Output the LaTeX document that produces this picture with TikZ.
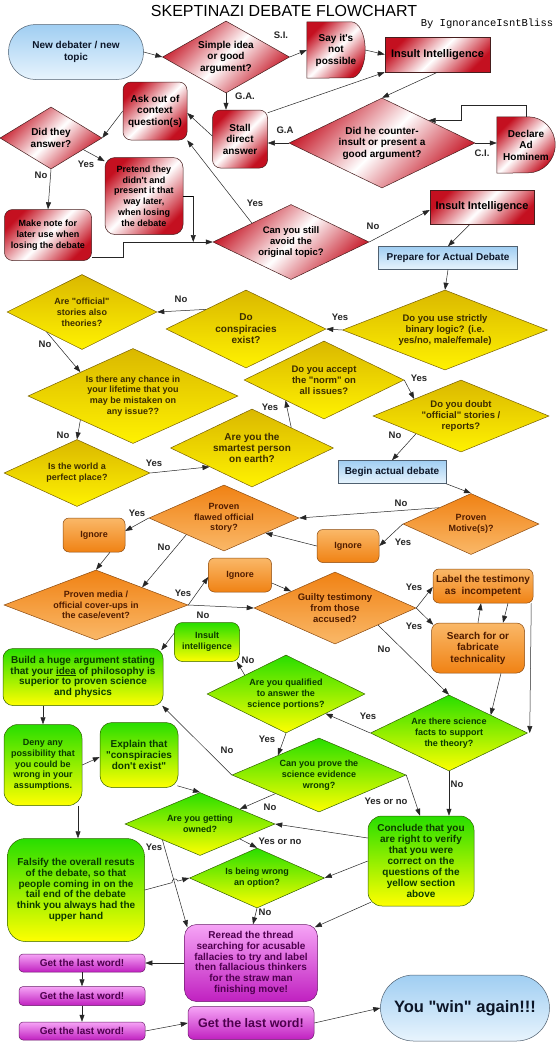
\documentclass[tikz,border=0pt]{standalone}
\usepackage{fontspec}
\newfontfamily\af{Liberation Sans}
\newfontfamily\monofont{Liberation Mono}
\usetikzlibrary{shapes.geometric,arrows.meta,calc,backgrounds}
\definecolor{rd}{RGB}{196,16,32}
\definecolor{blA}{RGB}{160,206,242}
\definecolor{blB}{RGB}{232,244,253}
\definecolor{yeA}{RGB}{218,184,0}
\definecolor{yeB}{RGB}{255,242,0}
\definecolor{orA}{RGB}{250,184,104}
\definecolor{orB}{RGB}{240,130,20}
\definecolor{grA}{RGB}{40,222,0}
\definecolor{grB}{RGB}{255,255,0}
\definecolor{mgA}{RGB}{246,164,246}
\definecolor{mgB}{RGB}{192,32,192}
\definecolor{yeT}{RGB}{60,45,0}
\definecolor{orT}{RGB}{80,28,0}
\definecolor{grT}{RGB}{10,58,0}
\definecolor{mgT}{RGB}{78,0,78}
\definecolor{blT}{RGB}{12,22,40}
\definecolor{yeD}{RGB}{120,96,0}
\definecolor{orD}{RGB}{138,74,16}
\definecolor{grD}{RGB}{50,96,0}
\definecolor{mgD}{RGB}{106,26,106}
\definecolor{rdD}{RGB}{70,30,30}
\definecolor{blD}{RGB}{80,96,112}
\tikzset{
  nb/.style={line width=0.5pt, align=center, inner sep=1pt},
  ften/.style={font=\af\bfseries\fontsize{10}{11.5}\selectfont},
  fnine/.style={font=\af\bfseries\fontsize{9}{10.8}\selectfont},
  dsz/.style n args={3}{minimum width=#1pt, minimum height=#2pt, aspect=#3},
  bsz/.style 2 args={minimum width=#1pt, minimum height=#2pt},
  redsh/.style={left color=rd, right color=rd, middle color=white, shading angle=45},
  rbox/.style={nb, redsh, draw=rdD, rectangle, rounded corners=8pt, ften},
  rdia/.style={nb, redsh, draw=rdD, diamond, inner sep=0pt, ften},
  bbox/.style={nb, top color=blA, bottom color=blB, draw=blD, rectangle, ften, text=blT},
  ydia/.style={nb, top color=yeA, bottom color=yeB, draw=yeD, diamond, inner sep=0pt, fnine, text=yeT},
  obox/.style={nb, top color=orA, bottom color=orB, draw=orD, rectangle, rounded corners=6pt, ften, text=orT},
  odia/.style={nb, top color=orB, bottom color=orA, draw=orD, diamond, inner sep=0pt, fnine, text=orT},
  gbox/.style={nb, top color=grA, bottom color=grB, draw=grD, rectangle, rounded corners=12pt, ften, text=grT},
  gdia/.style={nb, top color=grA, bottom color=grB, draw=grD, diamond, inner sep=0pt, fnine, text=grT},
  mbox/.style={nb, top color=mgA, bottom color=mgB, draw=mgD, rectangle, rounded corners=4pt, ften, text=mgT},
  dtext/.style={align=center, inner sep=0pt, ften},
  arr/.style={draw=black!85, line width=0.5pt, -{Triangle[length=7pt,width=5pt]}},
  lab/.style={font=\af\bfseries\fontsize{9.5}{11}\selectfont, text=black!85, inner sep=0pt},
}
\begin{document}
\begin{tikzpicture}[x=1pt,y=-1pt]
\useasboundingbox (0,0) rectangle (556,1042);

% ---------- title ----------
\node[anchor=base, inner sep=0pt, text depth=0pt, font=\af\fontsize{16}{18}\selectfont] (title) at (284,16.5) {SKEPTINAZI DEBATE FLOWCHART};
\node[anchor=base, inner sep=0pt, text height=6pt, font=\monofont\fontsize{10.5}{12}\selectfont] (byline) at (487,26) {By IgnoranceIsntBliss};

% ---------- red section ----------
\node[bbox, bsz={135}{55}, rounded corners=27pt] (start) at (76,52) {New debater / new\\topic};
\node[rdia, dsz={127}{72}{1.764}] (d1) at (226,57) {Simple idea\\or good\\argument?};
\node[dtext, bsz={58}{56}] (say) at (336,50) {Say it's\\not\\possible};
\node[nb, redsh, draw=rdD, rectangle, bsz={105}{35}, font=\af\bfseries\fontsize{11}{13}\selectfont] (ins1) at (437.5,54.5) {Insult Intelligence};
\node[rbox, bsz={64}{58}] (ask) at (155,111) {Ask out of\\context\\question(s)};
\node[rbox, bsz={55}{58}] (stall) at (240,139) {Stall\\direct\\answer};
\node[rdia, dsz={186}{90}{2.067}] (d2) at (382,143) {Did he counter-\\insult or present a\\good argument?};
\node[dtext, bsz={58}{56}] (adhom) at (526,145) {Declare\\Ad\\Hominem};
\node[rdia, dsz={102}{62}{1.645}] (d3) at (51,138) {Did they\\answer?};
\node[rbox, bsz={78}{77}, rounded corners=10pt, fnine] (pretend) at (144,196) {Pretend they\\didn't and\\present it that\\way later,\\when losing\\the debate};
\node[rbox, bsz={87}{51}, fnine] (note) at (48,235) {Make note for\\later use when\\losing the debate};
\node[rdia, dsz={156}{75}{2.08}, font=\af\bfseries\fontsize{9.5}{11}\selectfont] (d4) at (291,242) {Can you still\\avoid the\\original topic?};
\node[nb, redsh, draw=rdD, rectangle, bsz={104}{34}, font=\af\bfseries\fontsize{11}{13}\selectfont] (ins2) at (482,207) {Insult Intelligence};
\node[bbox, bsz={139}{23}] (prep) at (448,258) {Prepare for Actual Debate};

\begin{scope}[on background layer]
  \fill[white] (0,0) rectangle (556,1042);
  \path[redsh, draw=rdD, line width=0.5pt] (say.north west) -- ([xshift=-14pt]say.north east)
     arc[start angle=90, end angle=-90, x radius=14pt, y radius=28pt] -- (say.south west) -- cycle;
  \path[redsh, draw=rdD, line width=0.5pt] (adhom.north west) -- ([xshift=-27pt]adhom.north east)
     arc[start angle=90, end angle=-90, x radius=27pt, y radius=28pt] -- (adhom.south west) -- cycle;
\end{scope}

% ---------- yellow section ----------
\node[ydia, dsz={205}{80}{2.5625}, font=\af\bfseries\fontsize{9.5}{10.8}\selectfont] (d5) at (445,330) {Do you use strictly\\binary logic? (i.e.\\yes/no, male/female)};
\node[ydia, dsz={160}{78}{2.051}, font=\af\bfseries\fontsize{10}{11.5}\selectfont] (d6) at (246,329) {Do\\conspiracies\\exist?};
\node[ydia, dsz={150}{75}{2}] (d7) at (82,312) {Are "official"\\stories also\\theories?};
\node[ydia, dsz={210}{95}{2.211}] (d8) at (133,396) {Is there any chance in\\your lifetime that you\\may be mistaken on\\any issue??};
\node[ydia, dsz={160}{78}{2.051}, font=\af\bfseries\fontsize{9.5}{10.8}\selectfont] (d9) at (324,380) {Do you accept\\the "norm" on\\all issues?};
\node[ydia, dsz={176}{72}{2.444}, font=\af\bfseries\fontsize{9.5}{10.8}\selectfont] (d10) at (461,416) {Do you doubt\\"official" stories /\\reports?};
\node[ydia, dsz={163}{78}{2.09}, font=\af\bfseries\fontsize{10}{11}\selectfont] (d11) at (252,448) {Are you the\\smartest person\\on earth?};
\node[ydia, dsz={146}{67}{2.179}] (d12) at (77,473) {Is the world a\\perfect place?};
\node[bbox, bsz={108}{23}] (beginD) at (392,472) {Begin actual debate};

% ---------- orange section ----------
\node[odia, dsz={136}{61}{2.23}] (d13) at (471,524) {Proven\\Motive(s)?};
\node[odia, dsz={150}{66}{2.273}] (d14) at (224,518) {Proven\\flawed official\\story?};
\node[obox, bsz={62}{34}, fnine] (ign1) at (94,535) {Ignore};
\node[obox, bsz={62}{33}, fnine] (ign2) at (348,546) {Ignore};
\node[obox, bsz={63}{34}, fnine] (ign3) at (240,575) {Ignore};
\node[odia, dsz={184}{70}{2.629}] (d15) at (96,605) {Proven media /\\official cover-ups in\\the case/event?};
\node[odia, dsz={162}{72}{2.25}, font=\af\bfseries\fontsize{9.5}{11}\selectfont] (d16) at (335,608) {Guilty testimony\\from those\\accused?};
\node[obox, bsz={100}{34}] (labelt) at (483,586) {Label the testimony\\as~ incompetent};
\node[obox, bsz={93}{50}, rounded corners=8pt] (search) at (478,648) {Search for or\\fabricate\\technicality};

% ---------- green section ----------
\node[gbox, bsz={65}{39}, fnine, rounded corners=8pt] (ins3) at (207,642) {Insult\\intelligence};
\node[gbox, bsz={160}{57}, rounded corners=10pt, font=\af\bfseries\fontsize{10}{10.8}\selectfont] (build) at (83,677) {Build a huge argument stating\\that your \underline{idea} of philosophy is\\superior to proven science\\and physics};
\node[gdia, dsz={158}{78}{2.026}] (d17) at (286,694) {Are you qualified\\to answer the\\science portions?};
\node[gdia, dsz={157}{76}{2.066}] (d18) at (449,733) {Are there science\\facts to support\\the theory?};
\node[gbox, bsz={78}{81}, rounded corners=14pt, fnine] (deny) at (43,765) {Deny any\\possibility that\\you could be\\wrong in your\\assumptions.};
\node[gbox, bsz={78}{65}, rounded corners=12pt, font=\af\bfseries\fontsize{10}{11}\selectfont] (explain) at (139,755) {Explain that\\"conspiracies\\don't exist"};
\node[gdia, dsz={174}{74}{2.351}] (d19) at (319,775) {Can you prove the\\science evidence\\wrong?};
\node[gdia, dsz={150}{63}{2.381}] (d20) at (200,824) {Are you getting\\owned?};
\node[gbox, bsz={106}{90}, rounded corners=14pt, font=\af\bfseries\fontsize{10}{11}\selectfont] (conclude) at (421,861) {Conclude that you\\are right to verify\\that you were\\correct on the\\questions of the\\yellow section\\above};
\node[gdia, dsz={135}{60}{2.25}] (d21) at (257,878) {Is being wrong\\an option?};
\node[gbox, bsz={137}{103}, rounded corners=18pt, font=\af\bfseries\fontsize{10}{10.8}\selectfont] (falsify) at (76,890) {Falsify the overall resuts\\of the debate, so that\\people coming in on the\\tail end of the debate\\think you always had the\\upper hand};

% ---------- magenta section ----------
\node[mbox, bsz={133}{77}, rounded corners=12pt, font=\af\bfseries\fontsize{10}{10.8}\selectfont] (reread) at (251,963) {Reread the thread\\searching for acusable\\fallacies to try and label\\then fallacious thinkers\\for the straw man\\finishing move!};
\node[mbox, bsz={126}{18}] (last1) at (82,963) {Get the last word!};
\node[mbox, bsz={126}{19}] (last2) at (82,996) {Get the last word!};
\node[mbox, bsz={126}{18}] (last3) at (82,1031) {Get the last word!};
\node[mbox, bsz={126}{33}, rounded corners=6pt, font=\af\bfseries\fontsize{12.5}{14}\selectfont] (last4) at (251,1023) {Get the last word!};
\node[bbox, bsz={169}{66}, rounded corners=33pt, font=\af\bfseries\fontsize{16.5}{18}\selectfont] (win) at (465,1008) {You "win" again!!!};

% ---------- helper coordinates ----------
\coordinate (d2ne) at ($(d2.north)!0.5!(d2.east)$);

% ---------- connectors: red ----------
\draw[arr] (start.east) -- (d1.west);
\draw[arr] (d1.east) -- (say.west);
\draw[arr] (say.east) -- (ins1.west);
\draw[arr] (d1.south) -- (d1.south |- stall.north);
\draw[arr] ([yshift=3pt]stall.west) -- ([yshift=-2pt]ask.east);
\draw[arr] ([yshift=-3pt]stall.north east) -- (ins1.south west);
\draw[arr] (ins1.south) -- (d2.north);
\draw[arr] (d2.west) -- (stall.east |- d2.west);
\draw[arr] (d2.east) -- (adhom.west |- d2.east);
\draw[arr] (adhom.north) -- ++(0,-12) -| ([xshift=33pt]d2ne) -- (d2ne);
\draw[arr] (ask.west) -- (d3.east);
\draw[arr] ($(d3.east)!0.37!(d3.south)$) -- ([yshift=-4pt]pretend.north west);
\draw[arr] (d3.south) -- (note.north);
\draw[arr] ([yshift=-22pt]note.east) -- ++(31,0) |- (d4.west);
\draw (pretend.east) -- ++(10,0) coordinate (pe);
\draw[arr] (pe) -- (pe |- d4.west);
\draw[arr] ($(d4.west)!0.5!(d4.north)$) -- (ask.south east);
\draw[arr] (d4.east) -- ([yshift=-3pt]ins2.west);
\draw[arr] ([xshift=-12pt]ins2.south) -- (prep.north);
\draw[arr] (prep.south) -- (d5.north);

% ---------- connectors: yellow ----------
\draw[arr] (d5.west) -- (d6.east);
\draw[arr] ($(d6.west)!0.5!(d6.north)$) -- (d7.east);
\draw[arr] ($(d7.west)!0.53!(d7.south)$) -- ($(d8.west)!0.5!(d8.north)$);
\draw[arr] ($(d8.west)!0.5!(d8.south)$) -- (d12.north);
\draw[arr] (d12.east) -- ($(d11.west)!0.48!(d11.south)$);
\draw[arr] ($(d11.north)!0.48!(d11.east)$) -- ($(d9.west)!0.52!(d9.south)$);
\draw[arr] (d9.east) -- ($(d10.west)!0.47!(d10.north)$);
\draw[arr] ($(d10.west)!0.49!(d10.south)$) -- (beginD.north);
\draw[arr] (beginD.south east) -- (d13.north);

% ---------- connectors: orange ----------
\draw[arr] ($(d13.west)!0.53!(d13.north)$) -- (d14.east);
\draw[arr] (d13.west) -- (ign2.east);
\draw[arr] (ign2.west) -- ($(d14.east)!0.45!(d14.south)$);
\draw[arr] (d14.west) -- ([yshift=4pt]ign1.east);
\draw[arr] ([xshift=16pt]ign1.south) -- (d15.north);
\draw[arr] ($(d14.west)!0.5!(d14.south)$) -- ($(d15.north)!0.5!(d15.east)$);
\draw[arr] (d15.east) -- ([yshift=-2pt]ign3.west);
\draw[arr] (d15.east) -- (d16.west);
\draw[arr] ([yshift=-8pt]ign3.east) -- ($(d16.west)!0.46!(d16.north)$);
\draw[arr] (d16.east) -- ([yshift=-1pt]labelt.west);
\draw[arr] (d16.east) -- ([xshift=2pt,yshift=-2pt]search.north west);
\draw[arr] (search.north) -- ([xshift=-2pt]labelt.south);
\draw[arr] ([xshift=25pt]labelt.south) -- ([xshift=25pt]search.north);
\draw[arr] ([xshift=-2pt]labelt.south east) -- ([xshift=2pt]d18.east);
\draw[arr] ([xshift=23pt]search.south) -- ($(d18.north)!0.53!(d18.east)$);
\draw[arr] ($(d16.east)!0.47!(d16.south)$) -- (d18.north);

% ---------- connectors: green ----------
\draw[arr] (d18.west) -- ($(d17.east)!0.5!(d17.south)$);
\draw[arr] ($(d17.west)!0.48!(d17.north)$) -- ([xshift=-3pt]ins3.south east);
\draw[arr] ([yshift=9pt]ins3.west) -- ([xshift=-2pt,yshift=-2pt]build.north east);
\draw[arr] (d17.south) -- ($(d19.west)!0.53!(d19.north)$);
\draw[arr] (d19.west) -- ([xshift=-1pt]build.south east);
\draw[arr] (d19.east) -- ([xshift=-1pt]conclude.north);
\draw[arr] (d18.south) -- (d18.south |- conclude.north);
\draw[arr] ([yshift=23pt]conclude.west) -- (d20.east);
\draw[arr] ($(d19.west)!0.5!(d19.south)$) -- ($(d20.north)!0.53!(d20.east)$);
\draw[arr] ($(d20.east)!0.47!(d20.south)$) -- (d21.north);
\draw[arr] (conclude.west) -- (d21.east);
\draw[arr] ([xshift=3pt,yshift=4pt]conclude.south west) -- ([xshift=-3pt,yshift=-3pt]reread.north east);
\draw[arr] ($(d20.west)!0.5!(d20.south)$) -- ([xshift=3pt,yshift=-3pt]reread.north west);
\draw[arr] (d21.south) -- ([xshift=2pt]reread.north);
\draw[arr] (falsify.east) -- ($(falsify.east)!0.614!(d21.west)$) arc[start angle=195, end angle=15, radius=3pt] -- (d21.west);
\draw[arr] (deny.east) -- ([yshift=-2pt]explain.west);
\draw[arr] ([xshift=-40pt]build.south) -- (deny.north);
\draw[arr] ([xshift=35pt]deny.south) -- ([xshift=2pt]falsify.north);
\draw[arr] ([xshift=-1pt,yshift=2pt]explain.south east) -- (d20.north);

% ---------- connectors: magenta ----------
\draw[arr] (reread.west) -- (last1.east);
\draw[arr] (last1.south) -- (last2.north);
\draw[arr] (last2.south) -- (last3.north);
\draw[arr] (last3.east) -- (last4.west);
\draw[arr] (last4.east) -- (win.west);

% ---------- connector labels ----------
\node[lab] (lSI) at (281,35) {S.I.};
\node[lab] (lGA1) at (245,96) {G.A.};
\node[lab] (lGA2) at (285,130) {G.A};
\node[lab] (lCI) at (482,153) {C.I.};
\node[lab] (lY1) at (86,164) {Yes};
\node[lab] (lN1) at (41,175) {No};
\node[lab] (lY2) at (255,203) {Yes};
\node[lab] (lN2) at (373,226) {No};
\node[lab] (lY3) at (340,317) {Yes};
\node[lab] (lN3) at (181,299) {No};
\node[lab] (lN4) at (45,344) {No};
\node[lab] (lN5) at (63,435) {No};
\node[lab] (lY4) at (154,463) {Yes};
\node[lab] (lY5) at (270,407) {Yes};
\node[lab] (lY6) at (419,378) {Yes};
\node[lab] (lN6) at (395,435) {No};
\node[lab] (lN7) at (401,503) {No};
\node[lab] (lY7) at (137,513) {Yes};
\node[lab] (lY8) at (403,542) {Yes};
\node[lab] (lN8) at (164,547) {No};
\node[lab] (lY9) at (183,593) {Yes};
\node[lab] (lN9) at (203,615) {No};
\node[lab] (lY10) at (414,587) {Yes};
\node[lab] (lY11) at (414,626) {Yes};
\node[lab] (lN10) at (384,649) {No};
\node[lab] (lN11) at (248,660) {No};
\node[lab] (lY12) at (368,716) {Yes};
\node[lab] (lY13) at (267,739) {Yes};
\node[lab] (lN12) at (227,750) {No};
\node[lab] (lYN1) at (386,801) {Yes or no};
\node[lab] (lN13) at (457,784) {No};
\node[lab] (lN14) at (270,807) {No};
\node[lab] (lYN2) at (280,841) {Yes or no};
\node[lab] (lY14) at (154,847) {Yes};
\node[lab] (lN15) at (265,912) {No};
\end{tikzpicture}
\end{document}
